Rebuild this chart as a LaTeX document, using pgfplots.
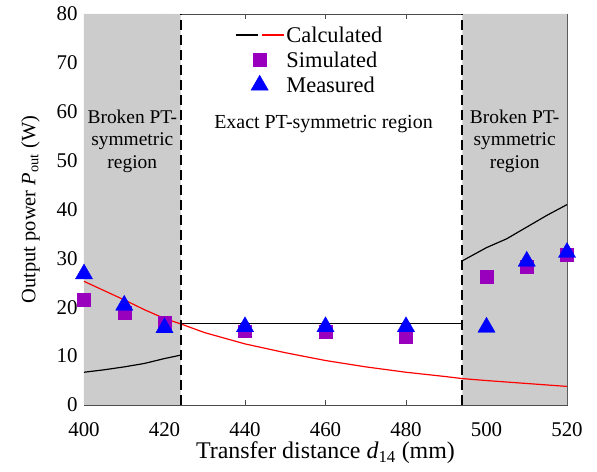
\documentclass[border=0pt]{standalone}
\usepackage{fontspec}
\setmainfont{Liberation Serif}
\usepackage{pgfplots}
\pgfplotsset{compat=1.18}
\definecolor{shade}{RGB}{204,204,204}
\definecolor{simc}{RGB}{153,0,190}
\pgfplotsset{
  midmark legend/.style={legend image code/.code={\draw[mark repeat=2,mark phase=2,##1] plot coordinates {(0cm,0cm) (0.85cm,0cm) (1.7cm,0cm)};}},
  calc legend/.style={legend image code/.code={\draw[black,line width=1.3pt] (0cm,0cm)--(0.78cm,0cm); \draw[red,line width=1.3pt] (0.92cm,0cm)--(1.7cm,0cm);}},
}
\begin{document}
\begin{tikzpicture}[x=1bp,y=1bp]
\begin{axis}[
  scale only axis, width=483bp, height=391bp,
  xmin=400, xmax=520, ymin=0, ymax=80,
  xtick={400,420,...,520}, ytick={0,10,...,80},
  tick align=inside, tick pos=both, major tick length=5bp,
  axis line style={draw=black!70, line width=0.8pt},
  every tick/.style={black!70, line width=0.6pt},
  /pgf/number format/assume math mode=true,
  tick label style={font=\fontsize{21}{24}\selectfont},
  xticklabel style={yshift=-14bp},
  yticklabel style={xshift=-3bp},
  xlabel style={font=\fontsize{24}{27}\selectfont, yshift=2bp},
  ylabel style={font=\fontsize{20.5}{24}\selectfont, yshift=10bp},
  xlabel={Transfer distance \textit{d}\textsubscript{14} (mm)},
  ylabel={Output power \textit{P}\textsubscript{out} (W)},
  clip=false,
  legend style={at={(rel axis cs:0.31,0.976)}, anchor=north west, draw=none, fill=none,
    font=\fontsize{22.5}{24}\selectfont, row sep=4bp, inner sep=1bp},
  legend cell align=left,
]
\addlegendimage{calc legend}
\addlegendentry{Calculated}
\addlegendimage{only marks, mark=square*, mark size=6.5pt, color=simc, midmark legend}
\addlegendentry{Simulated}
\addlegendimage{only marks, mark=triangle*, mark size=10pt, color=blue, midmark legend}
\addlegendentry{Measured}
% shaded regions
\addplot[fill=shade, draw=none, forget plot] coordinates {(400,0) (424,0) (424,80) (400,80)} \closedcycle;
\addplot[fill=shade, draw=none, forget plot] coordinates {(494,0) (520,0) (520,80) (494,80)} \closedcycle;
% texts
\node[align=center, font=\fontsize{19.5}{22.5}\selectfont] at (axis cs:412,54) {Broken PT-\\symmetric\\region};
\node[align=center, font=\fontsize{19.5}{22.5}\selectfont] at (axis cs:507,54) {Broken PT-\\symmetric\\region};
\node[font=\fontsize{20}{22}\selectfont] at (axis cs:459.5,57.5) {Exact PT-symmetric region};
% calculated black
\addplot[black, line width=1.2pt, forget plot] coordinates {(400,6.7) (405,7.2) (410,7.8) (415,8.5) (420,9.5) (424,10.2)};
\addplot[black, line width=1.2pt, forget plot] coordinates {(424,16.6) (494,16.6)};
\addplot[black, line width=1.2pt, forget plot] coordinates {(494,29.5) (500,32.2) (505,34) (510,36.4) (515,38.8) (520,41)};
% calculated red
\addplot[red, line width=1.2pt, forget plot] coordinates {(400,25.3) (405,23.4) (410,21.5) (415,19.5) (420,17.7) (424,16.6) (430,14.8) (440,12.5) (450,10.7) (460,9.1) (470,7.8) (480,6.7) (490,5.8) (494,5.4) (500,5.0) (510,4.4) (520,3.8)};
% dashed boundaries
\addplot[black, line width=2pt, dash pattern=on 10bp off 5bp, forget plot] coordinates {(424,0) (424,80)};
\addplot[black, line width=2pt, dash pattern=on 10bp off 5bp, forget plot] coordinates {(494,0) (494,80)};
% simulated
\addplot[only marks, mark=square*, mark size=6.5pt, color=simc, forget plot] coordinates {(400,21.5) (410,18.9) (420,16.8) (440,15.1) (460,15.0) (480,14.0) (500,26.2) (510,28.2) (520,30.8)};
% measured
\addplot[only marks, mark=triangle*, mark size=10pt, color=blue, forget plot] coordinates {(400,26.8) (410,20.4) (420,15.8) (440,16.0) (460,16.0) (480,16.0) (500,15.9) (510,29.4) (520,31.2)};
\end{axis}
\pgfresetboundingbox
\path ([shift={(-84bp,-67bp)}]current axis.south west) rectangle ([shift={(30bp,14bp)}]current axis.north east);
\end{tikzpicture}
\end{document}
